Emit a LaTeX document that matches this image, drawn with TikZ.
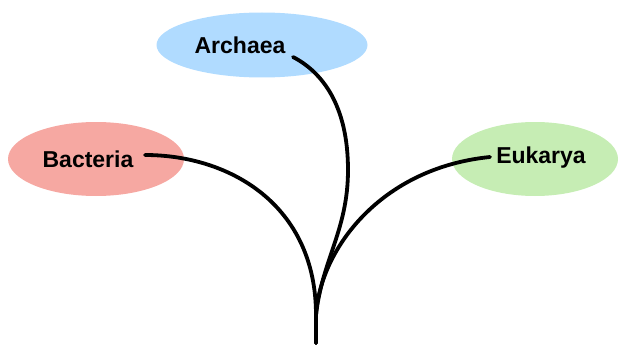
\documentclass[tikz,border=0pt]{standalone}
\usepackage{fontspec}
\setmainfont{Liberation Sans}
\usetikzlibrary{shapes.geometric}
\definecolor{archblue}{RGB}{176,219,255}
\definecolor{bactred}{RGB}{246,168,162}
\definecolor{eukgreen}{RGB}{198,237,180}
\tikzset{
  blob/.style={ellipse, inner sep=0pt, draw=none},
  lbl/.style={inner sep=0pt, font=\fontsize{23}{23}\selectfont\bfseries},
  branch/.style={line width=3.8pt, line cap=round, black}
}
\begin{document}
\begin{tikzpicture}[x=1pt,y=-1pt]
\useasboundingbox (0,0) rectangle (619,345);
% coloured domains
\node[blob, fill=archblue, minimum width=211pt, minimum height=65pt] (arcE) at (262,45) {};
\node[blob, fill=bactred, minimum width=176pt, minimum height=74pt] (bacE) at (96,159) {};
\node[blob, fill=eukgreen, minimum width=166pt, minimum height=74pt] (eukE) at (535,159) {};
% labels
\node[lbl] (arc) at (240,45) {Archaea};
\node[lbl] (bac) at (88,159) {Bacteria};
\node[lbl] (euk) at (541,158) {Eukarya};
% tree
\coordinate (root) at (316,343);
\coordinate (stem) at (316,315);
\coordinate (arcEnd) at (293,57);
\coordinate (bacEnd) at (145,155);
\coordinate (eukEnd) at (490,157);
\draw[branch] (root) -- (stem) .. controls (316,205) and (230,155) .. (bacEnd);
\draw[branch] (root) -- (stem) .. controls (322,260) and (348,230) .. (348,170)
  .. controls (348,105) and (322,72) .. (arcEnd);
\draw[branch] (root) -- (stem) .. controls (320,250) and (380,168) .. (eukEnd);
\end{tikzpicture}
\end{document}
